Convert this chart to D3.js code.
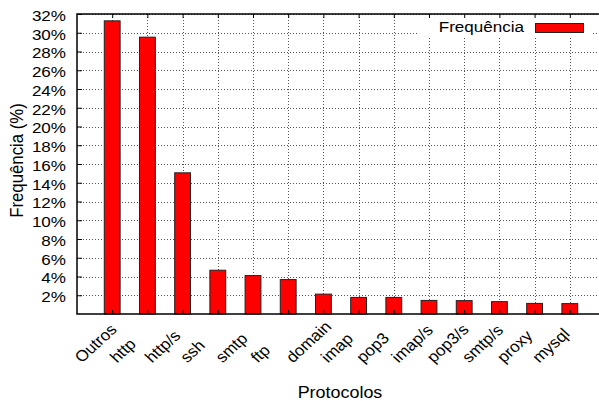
<!DOCTYPE html>
<html>
<head>
<meta charset="utf-8">
<script src="https://cdn.jsdelivr.net/npm/d3@7/dist/d3.min.js"></script>
<style>
  html, body { margin: 0; padding: 0; background: #fff; }
  svg { display: block; }
  text { font-family: "Liberation Sans", Arial, Helvetica, sans-serif; fill: #000; }
</style>
</head>
<body>
<svg id="chart" width="599" height="401"></svg>
<script>
const categories = ["Outros", "http", "http/s", "ssh", "smtp", "ftp", "domain", "imap", "pop3", "imap/s", "pop3/s", "smtp/s", "proxy", "mysql"];
const values = [31.27, 29.53, 15.06, 4.67, 4.1, 3.67, 2.12, 1.77, 1.77, 1.45, 1.43, 1.32, 1.13, 1.11];
const yTicks = [2, 4, 6, 8, 10, 12, 14, 16, 18, 20, 22, 24, 26, 28, 30, 32];
const seriesName = "Frequência";
const xTitle = "Protocolos";
const yTitle = "Frequência (%)";

(function () {
const svg = d3.select("#chart");
const pL = 77, pR = 605, pT = 14, pB = 314;
const FS = 15.5, SX = 1.1;

const x = d3.scaleLinear().domain([-1, categories.length]).range([pL, pR]);
const y = d3.scaleLinear().domain([0, 32]).range([pB, pT]);
const boxW = 0.45;

// grid
const grid = svg.append("g").attr("stroke", "#555").attr("stroke-width", 1).attr("stroke-dasharray", "1,2");
grid.selectAll("line.h").data(yTicks).join("line").attr("class", "h")
  .attr("x1", pL).attr("x2", pR)
  .attr("y1", d => Math.round(y(d)) + 0.5).attr("y2", d => Math.round(y(d)) + 0.5);
grid.selectAll("line.v").data(categories.map((c, i) => i)).join("line").attr("class", "v")
  .attr("x1", d => Math.round(x(d)) + 0.5).attr("x2", d => Math.round(x(d)) + 0.5)
  .attr("y1", pT).attr("y2", pB);

// legend background
svg.append("rect").attr("x", 419).attr("y", pT + 1).attr("width", 174).attr("height", 23).attr("fill", "#fff");

// bars
svg.append("g").selectAll("rect").data(values).join("rect")
  .attr("x", (d, i) => x(i - boxW / 2))
  .attr("width", (d, i) => x(i + boxW / 2) - x(i - boxW / 2))
  .attr("y", d => y(d))
  .attr("height", d => y(0) - y(d))
  .attr("fill", "#ff0000").attr("stroke", "#222").attr("stroke-width", 1);

// axes
const yAxis = d3.axisLeft(y).tickValues(yTicks).tickFormat(d => d + "%").tickSize(-5).tickPadding(11);
const gy = svg.append("g").attr("transform", `translate(${pL},0)`).call(yAxis);
gy.select(".domain").remove();
gy.attr("font-family", null).attr("font-size", null);
gy.selectAll(".tick line").attr("stroke", "#000").attr("stroke-width", 1);
gy.selectAll(".tick text")
  .attr("font-size", FS).attr("fill", "#000")
  .attr("x", 0).attr("dy", null).attr("y", 0)
  .attr("text-anchor", "end")
  .attr("transform", `translate(-11,6.3) scale(${SX},1)`);

const xAxis = d3.axisBottom(x).tickValues(categories.map((c, i) => i)).tickFormat(i => categories[i]).tickSize(-4);
const gx = svg.append("g").attr("transform", `translate(0,${pB})`).call(xAxis);
gx.select(".domain").remove();
gx.attr("font-family", null).attr("font-size", null);
gx.selectAll(".tick line").attr("stroke", "#000");
gx.selectAll(".tick text")
  .attr("font-size", FS).attr("fill", "#000")
  .attr("x", 0).attr("y", 0).attr("dy", null)
  .attr("text-anchor", "start")
  .attr("transform", `translate(-31,49.5) scale(${SX},1) rotate(-45)`);

const xTop = d3.axisTop(x).tickValues(categories.map((c, i) => i)).tickFormat("").tickSize(-4);
const gt = svg.append("g").attr("transform", `translate(0,${pT})`).call(xTop);
gt.select(".domain").remove();
gt.selectAll(".tick line").attr("stroke", "#000");

// border
svg.append("path")
  .attr("d", `M${pR},${pT}H${pL}V${pB}H${pR}`)
  .attr("fill", "none").attr("stroke", "#000").attr("stroke-width", 1.5);

// legend
svg.append("text").attr("text-anchor", "end").attr("font-size", FS)
  .attr("transform", `translate(524,31.5) scale(${SX},1)`).text(seriesName);
svg.append("rect").attr("x", 535.5).attr("y", 23.5).attr("width", 48).attr("height", 9)
  .attr("fill", "#ff0000").attr("stroke", "#222").attr("stroke-width", 1);

// titles
svg.append("text").attr("text-anchor", "middle").attr("font-size", 16.3)
  .attr("transform", `translate(${(pL + pR) / 2 - 1},397.5) scale(${SX},1)`).text(xTitle);
svg.append("text").attr("text-anchor", "middle").attr("font-size", 16.8)
  .attr("transform", `translate(22.5,160.5) scale(${SX},1) rotate(-90)`).text(yTitle);
})();
</script>
</body>
</html>
